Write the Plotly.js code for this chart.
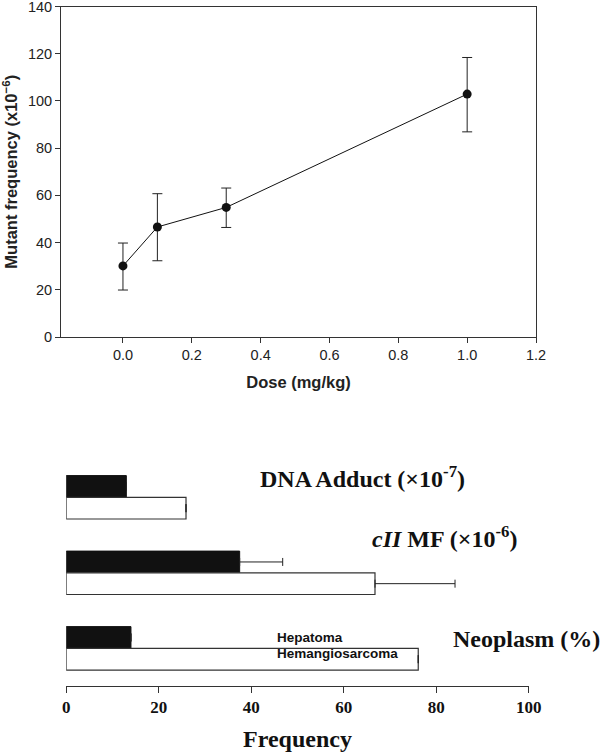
<!DOCTYPE html>
<html>
<head>
<meta charset="utf-8">
<script src="https://cdn.plot.ly/plotly-3.0.1.min.js"></script>
<style>html,body{margin:0;padding:0;background:#fff;}#chart{width:600px;height:754px;}</style>
</head>
<body>
<div id="chart"></div>
<script>
// Top panel: dose-response
const doses = [0, 0.1, 0.3, 1.0];
const mutantFreq = [30.1, 46.6, 54.9, 102.9];
const errPlus = [9.7, 14.1, 8.2, 15.5];
const errMinus = [10.2, 14.3, 8.5, 16.0];

// Bottom panel: endpoints
const endpoints = [0, 1, 2]; // DNA Adduct, cII MF, Neoplasm
const endpointLabels = ['<b>DNA Adduct (×10<sup>-7</sup>)</b>', '<b><i>cII</i> MF (×10<sup>-6</sup>)</b>', '<b>Neoplasm (%)</b>'];
const blackVals = [13.0, 37.5, 14.0];
const whiteVals = [25.9, 66.75, 76.1];
const blackErr = [null, 9.3, null];
const whiteErr = [null, 17.3, null];
const xTicks = [0, 20, 40, 60, 80, 100];

const H = 754, W = 600;
const py = v => 1 - v / H;
const px = v => v / W;

const traces = [
  {
    x: doses, y: mutantFreq, type: 'scatter', mode: 'lines+markers',
    xaxis: 'x', yaxis: 'y',
    line: {color: '#111', width: 1},
    marker: {color: '#111', size: 9},
    error_y: {type: 'data', symmetric: false, array: errPlus, arrayminus: errMinus,
      color: '#222', thickness: 1, width: 5},
    showlegend: false, cliponaxis: false
  },
  {
    y: endpoints, x: blackVals, type: 'bar', orientation: 'h',
    xaxis: 'x2', yaxis: 'y2',
    marker: {color: '#111', line: {color: '#111', width: 1}},
    error_x: {type: 'data', symmetric: false, array: blackErr, arrayminus: [0,0,0], color: '#222', thickness: 1, width: 4},
    showlegend: false
  },
  {
    y: endpoints, x: whiteVals, type: 'bar', orientation: 'h',
    xaxis: 'x2', yaxis: 'y2',
    marker: {color: '#fff', line: {color: '#333', width: 1.2}},
    error_x: {type: 'data', symmetric: false, array: whiteErr, arrayminus: [0,0,0], color: '#222', thickness: 1, width: 4},
    showlegend: false
  }
];

const labelPos = [
  {x: 64.1, y: -0.27},
  {x: 81.7, y: 0.52},
  {x: 99.4, y: 1.88}
];

const annotations = endpointLabels.map((t, i) => ({
  text: t, xref: 'x2', yref: 'y2', x: labelPos[i].x, y: labelPos[i].y,
  xanchor: 'center', yanchor: 'middle', showarrow: false,
  font: {family: 'Liberation Serif, Times New Roman, serif', size: 24, color: '#111'}
}));
annotations.push(
  {text: '<b>Hepatoma</b>', xref: 'x2', yref: 'y2', x: 45.1, y: 1.85, xanchor: 'left', yanchor: 'middle',
   showarrow: false, font: {family: 'Liberation Sans, Arial, sans-serif', size: 13.5, color: '#111'}},
  {text: '<b>Hemangiosarcoma</b>', xref: 'x2', yref: 'y2', x: 45.1, y: 2.07, xanchor: 'left', yanchor: 'middle',
   showarrow: false, font: {family: 'Liberation Sans, Arial, sans-serif', size: 13.5, color: '#111'}}
);

const layout = {
  width: W, height: H,
  margin: {l: 0, r: 0, t: 0, b: 0},
  paper_bgcolor: '#fff', plot_bgcolor: '#fff',
  font: {family: 'Liberation Sans, Arial, sans-serif', color: '#222'},
  barmode: 'group', bargap: 0.425, bargroupgap: 0,
  xaxis: {
    domain: [px(61), px(536)], anchor: 'y',
    range: [-0.18, 1.2], tickvals: [0, 0.2, 0.4, 0.6, 0.8, 1.0, 1.2],
    ticktext: ['0.0', '0.2', '0.4', '0.6', '0.8', '1.0', '1.2'],
    ticks: 'outside', ticklen: 5, tickcolor: '#333', tickwidth: 1,
    showline: true, linecolor: '#333', linewidth: 1, mirror: true,
    showgrid: false, zeroline: false, ticklabeloverflow: 'allow',
    tickfont: {size: 14.5, color: '#222'},
    title: {text: '<b>Dose (mg/kg)</b>', font: {size: 16.5, color: '#222'}, standoff: 14}
  },
  yaxis: {
    domain: [py(337), py(6.5)], anchor: 'x',
    range: [0, 140], dtick: 20,
    ticks: 'outside', ticklen: 5, tickcolor: '#333', tickwidth: 1,
    showline: true, linecolor: '#333', linewidth: 1, mirror: true,
    showgrid: false, zeroline: false, ticklabeloverflow: 'allow',
    tickfont: {size: 14.5, color: '#222'},
    title: {text: '<b>Mutant frequency (x10<sup>−6</sup>)</b>', font: {size: 16.5, color: '#222'}, standoff: 8}
  },
  xaxis2: {
    domain: [px(66.2), px(528.8)], anchor: 'y2',
    range: [0, 100], tickvals: xTicks,
    ticks: 'outside', ticklen: 6, tickcolor: '#333', tickwidth: 1,
    showline: true, linecolor: '#333', linewidth: 1.2,
    showgrid: false, zeroline: false,
    tickfont: {family: 'Liberation Serif, Times New Roman, serif', size: 17, color: '#111', weight: 'bold'},
    title: {text: '<b>Frequency</b>', font: {family: 'Liberation Serif, Times New Roman, serif', size: 24, color: '#111'}, standoff: 14}
  },
  yaxis2: {
    domain: [py(685.7), py(460)], anchor: 'x2',
    range: [2.495, -0.494],
    showticklabels: false, ticks: '', showline: false, showgrid: false, zeroline: false
  },
  annotations: annotations
};

Plotly.newPlot('chart', traces, layout, {staticPlot: true, displayModeBar: false});
</script>
</body>
</html>
